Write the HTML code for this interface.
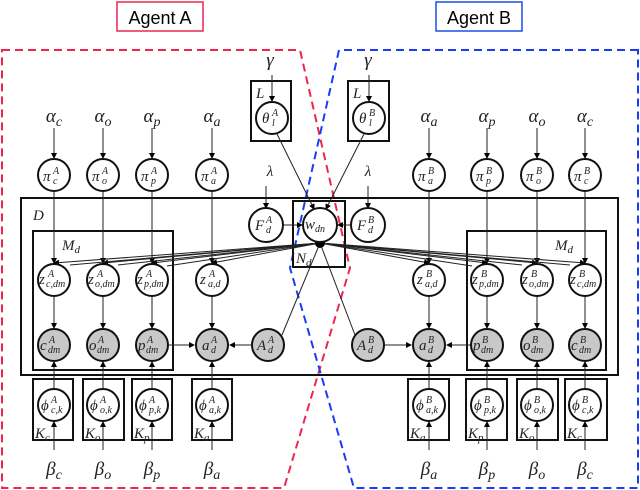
<!DOCTYPE html>
<html><head><meta charset="utf-8"><style>
html,body{margin:0;padding:0;background:#fff;}
svg{display:block;}
.l{font-family:"Liberation Serif",serif;font-style:italic;fill:#222;}
.nl text{font-size:15px;}
.nl tspan{font-size:10px;}
</style></head><body>
<svg width="640" height="490" viewBox="0 0 640 490" xmlns="http://www.w3.org/2000/svg">
<defs>
<marker id="ar" markerWidth="6" markerHeight="6" refX="5" refY="3" orient="auto" markerUnits="userSpaceOnUse"><path d="M0,0 L6,3 L0,6 z" fill="#000"/></marker>
</defs>
<rect x="117" y="2" width="86" height="29" fill="none" stroke="#e8294f" stroke-width="1.5"/>
<text x="160" y="24" text-anchor="middle" font-family="Liberation Sans,sans-serif" font-size="18">Agent A</text>
<rect x="436" y="2" width="86" height="29" fill="none" stroke="#1d4de8" stroke-width="1.5"/>
<text x="479" y="24" text-anchor="middle" font-family="Liberation Sans,sans-serif" font-size="18">Agent B</text>
<path d="M2,50 L300,50 L350,268 L284,488 L2,488 Z" fill="none" stroke="#f0254f" stroke-width="2" stroke-dasharray="8,5"/>
<path d="M638,50 L339,50 L290,268 L354,488 L638,488 Z" fill="none" stroke="#1a3cf5" stroke-width="2" stroke-dasharray="8,5"/>
<g stroke="#111" fill="none">
<rect x="21" y="198" width="597" height="177" stroke-width="2"/>
<rect x="33" y="231" width="140" height="139" stroke-width="2"/>
<rect x="467" y="231" width="139" height="139" stroke-width="2"/>
<rect x="251" y="81" width="40" height="60" stroke-width="2"/>
<rect x="348" y="81" width="41" height="60" stroke-width="2"/>
<rect x="293" y="201" width="52" height="66" stroke-width="2"/>
<rect x="33" y="379" width="40" height="61" stroke-width="2"/>
<rect x="83" y="379" width="41" height="61" stroke-width="2"/>
<rect x="132" y="379" width="40" height="61" stroke-width="2"/>
<rect x="192" y="379" width="40" height="61" stroke-width="2"/>
<rect x="408" y="379" width="41" height="61" stroke-width="2"/>
<rect x="466" y="379" width="41" height="61" stroke-width="2"/>
<rect x="517" y="379" width="41" height="61" stroke-width="2"/>
<rect x="565" y="379" width="42" height="61" stroke-width="2"/>
</g>
<g stroke="#222" stroke-width="1" marker-end="url(#ar)">
<line x1="54" y1="128" x2="54" y2="158"/><line x1="103" y1="128" x2="103" y2="158"/><line x1="152" y1="128" x2="152" y2="158"/><line x1="212" y1="128" x2="212" y2="158"/>
<line x1="429" y1="128" x2="429" y2="158"/><line x1="487" y1="128" x2="487" y2="158"/><line x1="537" y1="128" x2="537" y2="158"/><line x1="585" y1="128" x2="585" y2="158"/>
<line x1="54" y1="192" x2="54" y2="263"/><line x1="103" y1="192" x2="103" y2="263"/><line x1="152" y1="192" x2="152" y2="263"/><line x1="212" y1="192" x2="212" y2="263"/>
<line x1="429" y1="192" x2="429" y2="263"/><line x1="487" y1="192" x2="487" y2="263"/><line x1="537" y1="192" x2="537" y2="263"/><line x1="585" y1="192" x2="585" y2="263"/>
<line x1="54" y1="297" x2="54" y2="328"/><line x1="103" y1="297" x2="103" y2="328"/><line x1="152" y1="297" x2="152" y2="328"/><line x1="212" y1="297" x2="212" y2="328"/>
<line x1="429" y1="297" x2="429" y2="328"/><line x1="487" y1="297" x2="487" y2="328"/><line x1="537" y1="297" x2="537" y2="328"/><line x1="585" y1="297" x2="585" y2="328"/>
<line x1="54" y1="388" x2="54" y2="362"/><line x1="103" y1="388" x2="103" y2="362"/><line x1="152" y1="388" x2="152" y2="362"/><line x1="212" y1="388" x2="212" y2="362"/>
<line x1="429" y1="388" x2="429" y2="362"/><line x1="487" y1="388" x2="487" y2="362"/><line x1="537" y1="388" x2="537" y2="362"/><line x1="585" y1="388" x2="585" y2="362"/>
<line x1="54" y1="450" x2="54" y2="422"/><line x1="103" y1="450" x2="103" y2="422"/><line x1="152" y1="450" x2="152" y2="422"/><line x1="212" y1="450" x2="212" y2="422"/>
<line x1="429" y1="450" x2="429" y2="422"/><line x1="487" y1="450" x2="487" y2="422"/><line x1="537" y1="450" x2="537" y2="422"/><line x1="585" y1="450" x2="585" y2="422"/>
<line x1="272" y1="75" x2="272" y2="101"/><line x1="369" y1="75" x2="369" y2="101"/>
<line x1="266" y1="186" x2="266" y2="208"/><line x1="368" y1="186" x2="368" y2="208"/>
<line x1="277" y1="134" x2="314" y2="209"/><line x1="364" y1="134" x2="326" y2="209"/>
<line x1="283" y1="225" x2="302" y2="225"/><line x1="351" y1="225" x2="338" y2="225"/>
<line x1="169" y1="345" x2="194" y2="345"/><line x1="251" y1="345" x2="230" y2="345"/>
<line x1="470" y1="345" x2="447" y2="345"/><line x1="385" y1="345" x2="411" y2="345"/>
<line x1="320" y1="243" x2="54" y2="263"/><line x1="320" y1="243" x2="103" y2="263"/><line x1="320" y1="243" x2="152" y2="263"/><line x1="320" y1="243" x2="212" y2="263"/>
<line x1="320" y1="243" x2="429" y2="263"/><line x1="320" y1="243" x2="487" y2="263"/><line x1="320" y1="243" x2="537" y2="263"/><line x1="320" y1="243" x2="585" y2="263"/>
</g>
<g stroke="#222" stroke-width="1">
<line x1="320" y1="243" x2="70" y2="265"/><line x1="320" y1="243" x2="118" y2="265"/><line x1="320" y1="243" x2="167" y2="266"/>
<line x1="320" y1="243" x2="570" y2="265"/><line x1="320" y1="243" x2="522" y2="265"/><line x1="320" y1="243" x2="472" y2="266"/>
<line x1="320" y1="243" x2="282" y2="335"/><line x1="320" y1="243" x2="355" y2="335"/>
</g>
<circle cx="320" cy="243" r="5" fill="#000"/>
<g stroke="#111" stroke-width="2" fill="#fff">
<circle cx="54" cy="175" r="16"/><circle cx="103" cy="175" r="16"/><circle cx="152" cy="175" r="16"/><circle cx="212" cy="175" r="16"/>
<circle cx="429" cy="175" r="16"/><circle cx="487" cy="175" r="16"/><circle cx="537" cy="175" r="16"/><circle cx="585" cy="175" r="16"/>
<circle cx="54" cy="280" r="16"/><circle cx="103" cy="280" r="16"/><circle cx="152" cy="280" r="16"/><circle cx="212" cy="280" r="16"/>
<circle cx="429" cy="280" r="16"/><circle cx="487" cy="280" r="16"/><circle cx="537" cy="280" r="16"/><circle cx="585" cy="280" r="16"/>
<circle cx="54" cy="405" r="16"/><circle cx="103" cy="405" r="16"/><circle cx="152" cy="405" r="16"/><circle cx="212" cy="405" r="16"/>
<circle cx="429" cy="405" r="16"/><circle cx="487" cy="405" r="16"/><circle cx="537" cy="405" r="16"/><circle cx="585" cy="405" r="16"/>
<circle cx="272" cy="118" r="16"/><circle cx="369" cy="118" r="16"/>
<circle cx="266" cy="225" r="17"/><circle cx="368" cy="225" r="17"/><circle cx="320" cy="225" r="17"/>
</g>
<g stroke="#111" stroke-width="2" fill="#c8c8c8">
<circle cx="54" cy="345" r="16"/><circle cx="103" cy="345" r="16"/><circle cx="152" cy="345" r="16"/><circle cx="212" cy="345" r="16"/>
<circle cx="268" cy="345" r="16"/><circle cx="368" cy="345" r="16"/>
<circle cx="429" cy="345" r="16"/><circle cx="487" cy="345" r="16"/><circle cx="537" cy="345" r="16"/><circle cx="585" cy="345" r="16"/>
</g>
<g class="l" font-size="19" text-anchor="middle">
<text x="54" y="122">α<tspan font-size="14" dy="4">c</tspan></text>
<text x="103" y="122">α<tspan font-size="14" dy="4">o</tspan></text>
<text x="152" y="122">α<tspan font-size="14" dy="4">p</tspan></text>
<text x="212" y="122">α<tspan font-size="14" dy="4">a</tspan></text>
<text x="429" y="122">α<tspan font-size="14" dy="4">a</tspan></text>
<text x="487" y="122">α<tspan font-size="14" dy="4">p</tspan></text>
<text x="537" y="122">α<tspan font-size="14" dy="4">o</tspan></text>
<text x="585" y="122">α<tspan font-size="14" dy="4">c</tspan></text>
<text x="54" y="475">β<tspan font-size="14" dy="4">c</tspan></text>
<text x="103" y="475">β<tspan font-size="14" dy="4">o</tspan></text>
<text x="152" y="475">β<tspan font-size="14" dy="4">p</tspan></text>
<text x="212" y="475">β<tspan font-size="14" dy="4">a</tspan></text>
<text x="429" y="475">β<tspan font-size="14" dy="4">a</tspan></text>
<text x="487" y="475">β<tspan font-size="14" dy="4">p</tspan></text>
<text x="537" y="475">β<tspan font-size="14" dy="4">o</tspan></text>
<text x="585" y="475">β<tspan font-size="14" dy="4">c</tspan></text>
<text x="270" y="66">γ</text><text x="368" y="66">γ</text>
<text x="270" y="176" font-size="15">λ</text><text x="368" y="176" font-size="15">λ</text>
</g>
<g class="l" font-size="15">
<text x="33" y="220">D</text>
<text x="62" y="250">M<tspan font-size="11" dy="3">d</tspan></text>
<text x="555" y="250">M<tspan font-size="11" dy="3">d</tspan></text>
<text x="256" y="98">L</text><text x="353" y="98">L</text>
<text x="296" y="263">N<tspan font-size="11" dy="3">d</tspan></text>
<text x="35" y="438">K<tspan font-size="11" dy="3">c</tspan></text>
<text x="85" y="438">K<tspan font-size="11" dy="3">o</tspan></text>
<text x="134" y="438">K<tspan font-size="11" dy="3">p</tspan></text>
<text x="194" y="438">K<tspan font-size="11" dy="3">a</tspan></text>
<text x="410" y="438">K<tspan font-size="11" dy="3">a</tspan></text>
<text x="468" y="438">K<tspan font-size="11" dy="3">p</tspan></text>
<text x="519" y="438">K<tspan font-size="11" dy="3">o</tspan></text>
<text x="567" y="438">K<tspan font-size="11" dy="3">c</tspan></text>
</g>
<g class="l nl" font-size="14">
<text x="43" y="181">π<tspan x="53" dy="-7">A</tspan><tspan x="53" dy="10">c</tspan></text>
<text x="92" y="181">π<tspan x="102" dy="-7">A</tspan><tspan x="102" dy="10">o</tspan></text>
<text x="141" y="181">π<tspan x="151" dy="-7">A</tspan><tspan x="151" dy="10">p</tspan></text>
<text x="201" y="181">π<tspan x="211" dy="-7">A</tspan><tspan x="211" dy="10">a</tspan></text>
<text x="418" y="181">π<tspan x="428" dy="-7">B</tspan><tspan x="428" dy="10">a</tspan></text>
<text x="476" y="181">π<tspan x="486" dy="-7">B</tspan><tspan x="486" dy="10">p</tspan></text>
<text x="526" y="181">π<tspan x="536" dy="-7">B</tspan><tspan x="536" dy="10">o</tspan></text>
<text x="574" y="181">π<tspan x="584" dy="-7">B</tspan><tspan x="584" dy="10">c</tspan></text>

<text x="39" y="284">z<tspan x="48" dy="-7">A</tspan><tspan x="46" dy="10">c,dm</tspan></text>
<text x="88" y="284">z<tspan x="97" dy="-7">A</tspan><tspan x="95" dy="10">o,dm</tspan></text>
<text x="137" y="284">z<tspan x="146" dy="-7">A</tspan><tspan x="144" dy="10">p,dm</tspan></text>
<text x="200" y="284">z<tspan x="209" dy="-7">A</tspan><tspan x="208" dy="10">a,d</tspan></text>
<text x="417" y="284">z<tspan x="426" dy="-7">B</tspan><tspan x="425" dy="10">a,d</tspan></text>
<text x="472" y="284">z<tspan x="481" dy="-7">B</tspan><tspan x="479" dy="10">p,dm</tspan></text>
<text x="522" y="284">z<tspan x="531" dy="-7">B</tspan><tspan x="529" dy="10">o,dm</tspan></text>
<text x="570" y="284">z<tspan x="579" dy="-7">B</tspan><tspan x="577" dy="10">c,dm</tspan></text>

<text x="40" y="350">c<tspan x="49" dy="-7">A</tspan><tspan x="48" dy="10">dm</tspan></text>
<text x="89" y="350">o<tspan x="98" dy="-7">A</tspan><tspan x="97" dy="10">dm</tspan></text>
<text x="138" y="350">p<tspan x="147" dy="-7">A</tspan><tspan x="146" dy="10">dm</tspan></text>
<text x="202" y="350">a<tspan x="211" dy="-7">A</tspan><tspan x="211" dy="10">d</tspan></text>
<text x="257" y="350">A<tspan x="268" dy="-7">A</tspan><tspan x="268" dy="10">d</tspan></text>
<text x="357" y="350">A<tspan x="368" dy="-7">B</tspan><tspan x="368" dy="10">d</tspan></text>
<text x="419" y="350">a<tspan x="428" dy="-7">B</tspan><tspan x="428" dy="10">d</tspan></text>
<text x="473" y="350">p<tspan x="482" dy="-7">B</tspan><tspan x="481" dy="10">dm</tspan></text>
<text x="523" y="350">o<tspan x="532" dy="-7">B</tspan><tspan x="531" dy="10">dm</tspan></text>
<text x="571" y="350">c<tspan x="580" dy="-7">B</tspan><tspan x="579" dy="10">dm</tspan></text>

<text x="41" y="410">ϕ<tspan x="51" dy="-7">A</tspan><tspan x="51" dy="10">c,k</tspan></text>
<text x="90" y="410">ϕ<tspan x="100" dy="-7">A</tspan><tspan x="100" dy="10">o,k</tspan></text>
<text x="139" y="410">ϕ<tspan x="149" dy="-7">A</tspan><tspan x="149" dy="10">p,k</tspan></text>
<text x="199" y="410">ϕ<tspan x="209" dy="-7">A</tspan><tspan x="209" dy="10">a,k</tspan></text>
<text x="416" y="410">ϕ<tspan x="426" dy="-7">B</tspan><tspan x="426" dy="10">a,k</tspan></text>
<text x="474" y="410">ϕ<tspan x="484" dy="-7">B</tspan><tspan x="484" dy="10">p,k</tspan></text>
<text x="524" y="410">ϕ<tspan x="534" dy="-7">B</tspan><tspan x="534" dy="10">o,k</tspan></text>
<text x="572" y="410">ϕ<tspan x="582" dy="-7">B</tspan><tspan x="582" dy="10">c,k</tspan></text>

<text x="262" y="123">θ<tspan x="272" dy="-7">A</tspan><tspan x="272" dy="10">l</tspan></text>
<text x="359" y="123">θ<tspan x="369" dy="-7">B</tspan><tspan x="369" dy="10">l</tspan></text>
<text x="255" y="230">F<tspan x="266" dy="-7">A</tspan><tspan x="266" dy="10">d</tspan></text>
<text x="357" y="230">F<tspan x="368" dy="-7">B</tspan><tspan x="368" dy="10">d</tspan></text>
<text x="305" y="229">w<tspan dy="3">dn</tspan></text>
</g>
</svg>
</body></html>
